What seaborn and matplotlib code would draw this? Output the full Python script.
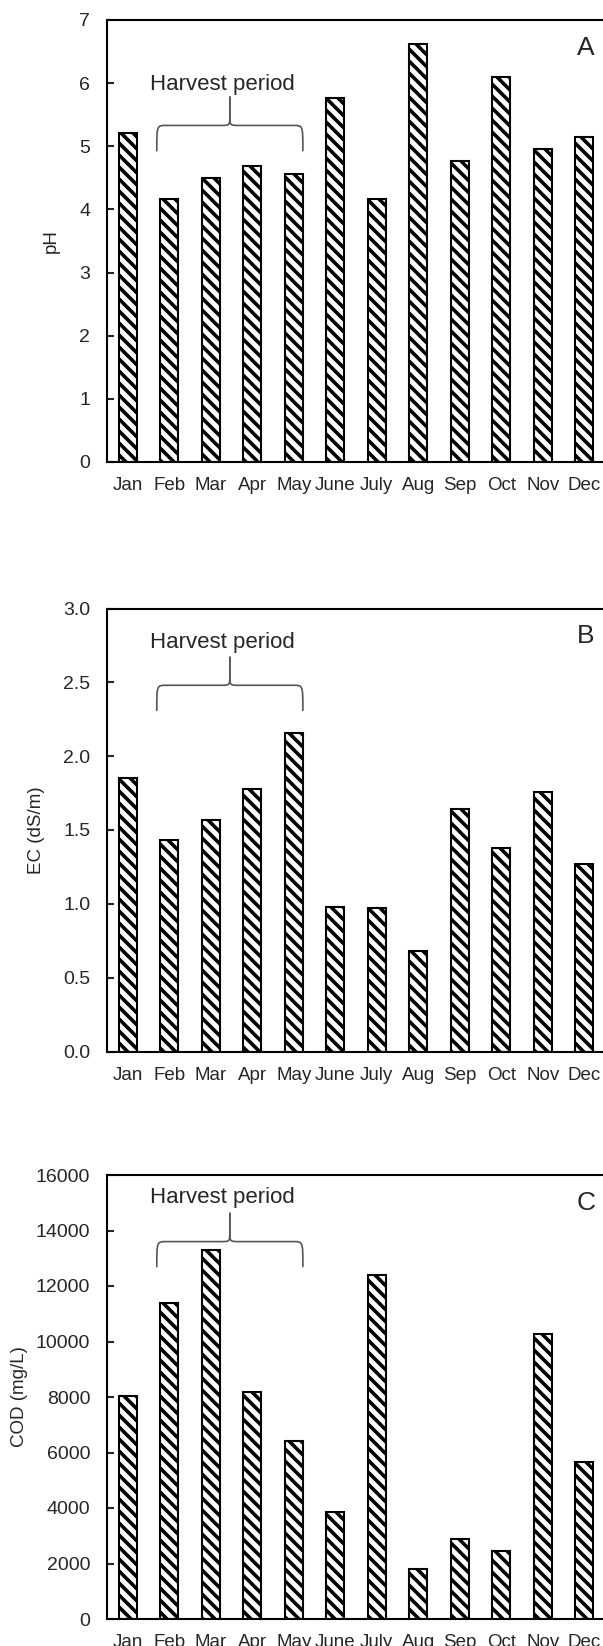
import numpy as np
import matplotlib
matplotlib.use("Agg")
import matplotlib.pyplot as plt
from matplotlib.path import Path
from matplotlib.patches import PathPatch
from matplotlib.ticker import FormatStrFormatter
import seaborn as sns
import pandas as pd

months = ["Jan", "Feb", "Mar", "Apr", "May", "June", "July", "Aug", "Sep", "Oct", "Nov", "Dec"]
ph = [5.21, 4.16, 4.50, 4.68, 4.56, 5.77, 4.16, 6.62, 4.76, 6.10, 4.95, 5.14]
ec = [1.85, 1.43, 1.57, 1.78, 2.16, 0.98, 0.97, 0.68, 1.64, 1.38, 1.76, 1.27]
cod = [8050, 11390, 13300, 8170, 6420, 3860, 12400, 1800, 2900, 2460, 10260, 5670]

panel_letters = ["A", "B", "C"]
ylabels = ["pH", "EC (dS/m)", "COD (mg/L)"]
yticks = [np.arange(0, 8, 1), np.arange(0, 3.01, 0.5), np.arange(0, 16001, 2000)]
ymax = [7, 3.0, 16000]
harvest_text = "Harvest period"
# annotation heights per panel: text, brace line, brace ends, brace tip
harvest_text_y = [5.98, 2.77, 15200]
brace_base = [5.33, 2.48, 13600]
brace_end = [4.93, 2.31, 12700]
brace_tip = [5.78, 2.67, 14620]

DPI = 72
S = 100 / 72  # size scale (sizes tuned for 100 dpi)

sns.set_theme(style="ticks")
plt.rcParams["font.family"] = ["Liberation Sans", "DejaVu Sans"]
plt.rcParams["hatch.linewidth"] = 3.6
plt.rcParams["hatch.color"] = "black"

W, H = 603.0, 1646.0
fig = plt.figure(figsize=(W / DPI, H / DPI), dpi=DPI)
ax_left = 107 / W
ax_w = 498 / W
tops = [20, 608.5, 1175]
bots = [462, 1051.5, 1619]
ylab_x = [-0.094, -0.124, -0.158]

datasets = [ph, ec, cod]


def draw_brace(ax, x0, x1, ybase, yend, ytip, dx):
    xm = (x0 + x1) / 2
    for xa, sgn in ((x0, 1), (x1, -1)):
        verts = [
            (xa, yend), (xa, ybase), (xa, ybase), (xa + sgn * dx, ybase),
            (xm - sgn * dx, ybase),
            (xm, ybase), (xm, ybase), (xm, ybase + (ytip - ybase) * 0.35),
            (xm, ytip),
        ]
        codes = [Path.MOVETO, Path.CURVE4, Path.CURVE4, Path.CURVE4,
                 Path.LINETO,
                 Path.CURVE4, Path.CURVE4, Path.CURVE4,
                 Path.LINETO]
        ax.add_patch(PathPatch(Path(verts, codes), facecolor="none", edgecolor="#555555",
                               lw=1.2 * S, capstyle="round", joinstyle="round"))


for i in range(3):
    b = 1 - bots[i] / H
    h = (bots[i] - tops[i]) / H
    ax = fig.add_axes([ax_left, b, ax_w, h])
    df = pd.DataFrame({"month": months, "value": datasets[i]})
    sns.barplot(data=df, x="month", y="value", order=months, ax=ax, color="white",
                saturation=1, edgecolor="black", linewidth=1.5 * S, width=0.43,
                hatch="\\\\", errorbar=None)
    ax.set_xlim(-0.5, 11.5)
    ax.set_ylim(0, ymax[i])
    ax.set_yticks(yticks[i])
    if i == 1:
        ax.yaxis.set_major_formatter(FormatStrFormatter("%.1f"))
    ax.set_xlabel("")
    ax.set_ylabel(ylabels[i], fontsize=13.5 * S)
    ax.yaxis.set_label_coords(ylab_x[i], 0.5)
    ax.tick_params(axis="y", direction="in", length=5 * S, width=1.5 * S,
                   labelsize=14 * S, pad=12 * S)
    ax.tick_params(axis="x", length=0, labelsize=13.5 * S, pad=11 * S)
    for s in ax.spines.values():
        s.set_visible(True)
        s.set_linewidth(1.5 * S)
        s.set_color("black")
    ax.text(0.962, 0.937, panel_letters[i], transform=ax.transAxes, fontsize=19 * S,
            ha="center", va="center")
    ax.text(2.27, harvest_text_y[i], harvest_text, fontsize=16 * S,
            ha="center", va="center")
    draw_brace(ax, 0.70, 4.22, brace_base[i], brace_end[i], brace_tip[i], 0.22)

fig.savefig("out.png", dpi=DPI)
